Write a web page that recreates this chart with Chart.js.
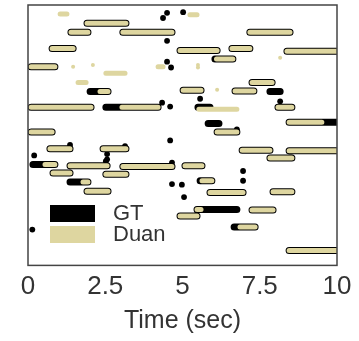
<!DOCTYPE html>
<html>
<head>
<meta charset="utf-8">
<script src="https://cdn.jsdelivr.net/npm/chart.js@4"></script>
<style>
  html, body { margin: 0; padding: 0; background: #fff; }
  #wrap { width: 359px; height: 341px; }
</style>
</head>
<body>
<div id="wrap"><canvas id="pitchChart" width="359" height="341"></canvas></div>
<script>
// x axis ticks (seconds)
const timeTicks = [0, 2.5, 5, 7.5, 10];

// note segments: [start (s), end (s), pitch]
const gtNotes = [
  [1.39, 1.94, 75.8], [1.91, 3.17, 77.2], [3.07, 4.66, 75.8], [0.78, 1.46, 73.3],
  [0.10, 0.87, 70.5], [2.01, 2.59, 66.7], [0.10, 2.04, 64.3], [2.52, 4.21, 64.3],
  [0.10, 0.78, 60.5], [4.92, 6.12, 73.0], [6.60, 7.18, 73.3], [6.05, 6.63, 71.7],
  [5.02, 5.60, 66.9], [5.50, 5.89, 64.3], [5.83, 6.18, 61.8], [6.12, 6.76, 60.5],
  [7.18, 8.48, 75.8], [8.38, 10.0, 72.9], [7.25, 7.90, 68.1], [7.83, 8.16, 66.7],
  [6.70, 7.31, 66.8], [8.09, 8.54, 64.3], [8.45, 10.0, 62.0], [0.71, 1.36, 57.9],
  [2.43, 3.17, 57.9], [0.16, 0.87, 55.5], [0.81, 1.36, 54.2], [1.36, 2.56, 55.3],
  [2.52, 3.17, 54.0], [3.07, 4.66, 55.2], [1.36, 1.94, 52.8], [1.91, 2.59, 51.4],
  [5.08, 5.63, 55.3], [5.57, 5.95, 53.0], [5.89, 6.96, 51.2], [4.92, 5.47, 47.6],
  [5.47, 6.76, 48.6], [6.93, 7.83, 57.7], [7.83, 8.54, 56.5], [8.45, 10.0, 57.6],
  [7.93, 8.54, 51.3], [7.25, 7.93, 48.5], [6.67, 7.35, 45.9], [8.45, 10.0, 42.3]
];
const gtDots = [
  [4.50, 78.8], [4.37, 78.0], [5.02, 78.9], [4.50, 74.5], [4.50, 71.3], [4.63, 70.4],
  [4.34, 65.0], [4.60, 64.4], [5.57, 65.6], [8.16, 65.2], [6.76, 60.9], [1.36, 58.5],
  [3.14, 58.3], [0.20, 56.9], [2.56, 57.1], [2.56, 56.3], [2.52, 56.0], [4.60, 59.2],
  [4.66, 55.8], [4.66, 52.5], [4.98, 52.4], [5.05, 50.5], [6.96, 54.5], [6.96, 53.0],
  [0.14, 45.5]
];

const duanNotes = [
  [1.39, 1.94, 75.8], [1.91, 3.17, 77.2], [3.07, 4.66, 75.8], [0.78, 1.46, 73.3],
  [0.10, 0.87, 70.5], [2.33, 2.59, 66.7], [0.10, 2.04, 64.3], [3.04, 4.21, 64.3],
  [0.10, 0.78, 60.5], [4.92, 6.12, 73.0], [6.60, 7.18, 73.3], [6.10, 6.63, 71.7],
  [5.02, 5.60, 66.9], [5.53, 6.76, 64.0], [6.12, 6.76, 60.5],
  [7.18, 8.48, 75.8], [8.38, 10.0, 72.9], [7.25, 7.90, 68.1],
  [6.70, 7.31, 66.8], [8.09, 8.54, 64.3], [8.45, 9.51, 62.0], [0.71, 1.36, 57.9],
  [2.43, 3.17, 57.9], [0.55, 0.87, 55.5], [0.81, 1.36, 54.2], [1.36, 2.56, 55.3],
  [2.52, 3.17, 54.0], [3.07, 4.66, 55.2], [1.78, 1.94, 52.8], [1.91, 2.59, 51.4],
  [5.08, 5.63, 55.3], [5.63, 5.95, 53.0], [5.89, 6.96, 51.2], [4.92, 5.47, 47.6],
  [5.47, 5.60, 48.6], [6.93, 7.83, 57.7], [7.83, 8.54, 56.5], [8.45, 10.0, 57.6],
  [7.93, 8.54, 51.3], [7.25, 7.93, 48.5], [6.86, 7.35, 45.9], [8.45, 10.0, 42.3],
  [1.04, 1.26, 78.6], [5.24, 5.47, 78.5], [2.52, 3.14, 69.5], [1.62, 1.88, 68.1],
  [4.21, 4.37, 70.5]
];
const duanDots = [
  [1.46, 70.5], [2.10, 70.8], [5.50, 70.8], [5.50, 70.4], [6.12, 67.0], [8.16, 71.9]
];

const gtColor = "#000000";
const duanColor = "#ded6a0";
const fontFamily = "'Liberation Sans', Arial, sans-serif";

function notePoints(notes) {
  const pts = [];
  notes.forEach(n => {
    pts.push({ x: n[0], y: n[2] }, { x: n[1], y: n[2] }, { x: n[1], y: null });
  });
  return pts;
}
function dotPoints(dots) {
  return dots.map(d => ({ x: d[0], y: d[1] }));
}

// box around plot + legend in lower left
const framePlugin = {
  id: "frame",
  afterDatasetsDraw(chart) {
    const { ctx, chartArea: a } = chart;
    ctx.save();
    ctx.strokeStyle = "#444";
    ctx.lineWidth = 1.5;
    ctx.strokeRect(a.left, a.top, a.right - a.left, a.bottom - a.top);

    const items = chart.data.datasets.filter(d => d.inLegend);
    let y = a.top + 200;
    ctx.font = "22px " + fontFamily;
    ctx.textBaseline = "middle";
    items.forEach(d => {
      ctx.fillStyle = d.borderColor;
      ctx.fillRect(a.left + 22, y, 45, 17);
      ctx.fillStyle = "#333";
      ctx.fillText(d.label, a.left + 85, y + 9);
      y += 21;
    });
    ctx.restore();
  }
};

new Chart(document.getElementById("pitchChart"), {
  type: "scatter",
  data: {
    datasets: [
      {
        label: "GT", inLegend: true, data: notePoints(gtNotes), showLine: true,
        borderColor: gtColor, backgroundColor: gtColor, borderWidth: 7,
        borderCapStyle: "round", pointRadius: 0, spanGaps: false, order: 2
      },
      {
        label: "GT dots", data: dotPoints(gtDots), borderColor: gtColor,
        backgroundColor: gtColor, pointRadius: 2.9, borderWidth: 0, order: 2
      },
      {
        label: "Duan", inLegend: true, data: notePoints(duanNotes), showLine: true,
        borderColor: duanColor, backgroundColor: duanColor, borderWidth: 5,
        borderCapStyle: "round", pointRadius: 0, spanGaps: false, order: 1
      },
      {
        label: "Duan dots", data: dotPoints(duanDots), borderColor: duanColor,
        backgroundColor: duanColor, pointRadius: 2, borderWidth: 0, order: 1
      }
    ]
  },
  options: {
    responsive: false,
    animation: false,
    layout: { padding: { left: 28, right: 22, top: 5, bottom: 6 } },
    plugins: { legend: { display: false }, tooltip: { enabled: false } },
    scales: {
      x: {
        type: "linear", min: 0, max: 10,
        grid: { display: false, drawTicks: false },
        border: { display: false },
        afterBuildTicks: axis => { axis.ticks = timeTicks.map(v => ({ value: v })); },
        ticks: {
          padding: 7, color: "#333", maxRotation: 0, autoSkip: false,
          font: { family: fontFamily, size: 26, lineHeight: 1.1 }
        },
        title: {
          display: true, text: "Time (sec)", color: "#333", padding: { top: 0, bottom: 0 },
          font: { family: fontFamily, size: 25, lineHeight: 1.08 }
        }
      },
      y: { type: "linear", min: 40, max: 80, display: false }
    }
  },
  plugins: [framePlugin]
});
</script>
</body>
</html>
